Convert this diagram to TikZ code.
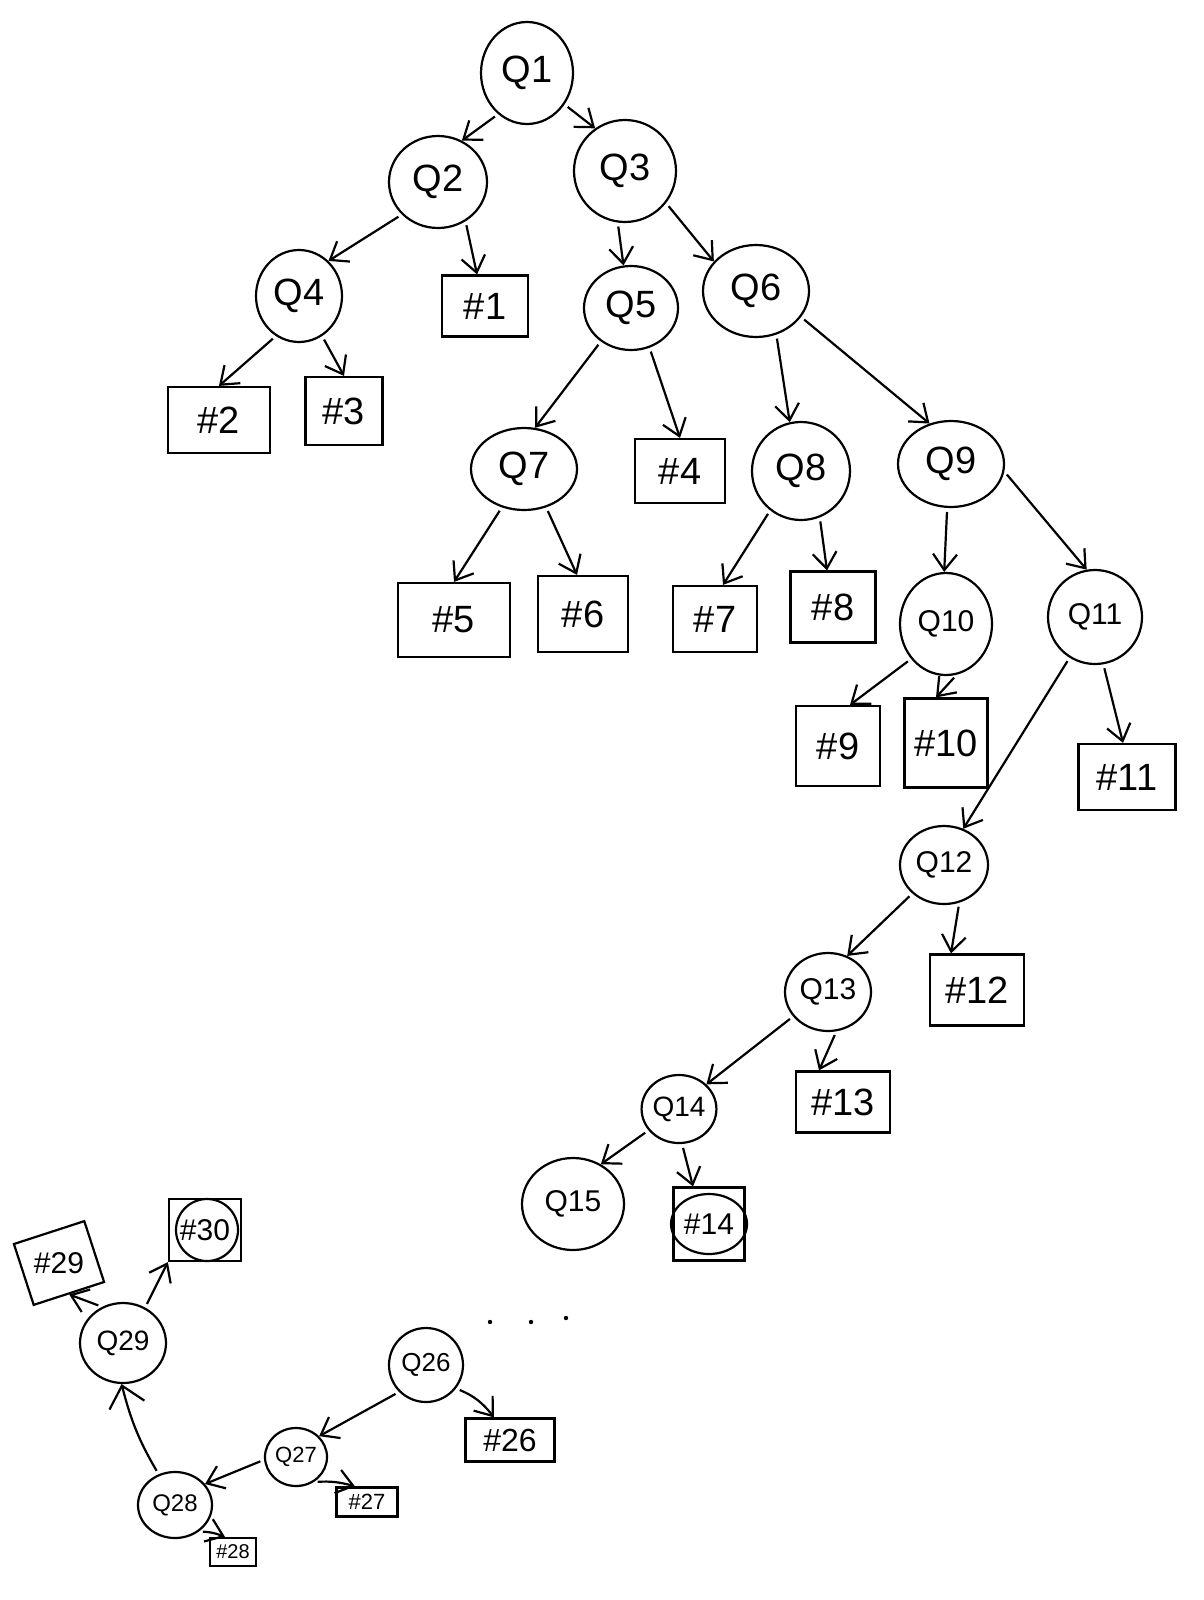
\documentclass[tikz,border=0pt]{standalone}
\usepackage{fontspec}
\setmainfont{Liberation Sans}
\usetikzlibrary{arrows.meta,shapes.geometric}
\begin{document}
\begin{tikzpicture}[x=0.5pt,y=-0.5pt,line width=1.1pt,
  q/.style={ellipse,draw,inner sep=0pt,font=\fontsize{19}{22}\selectfont},
  qq/.style={ellipse,draw,inner sep=0pt,font=\fontsize{15}{18}\selectfont},
  leaf/.style={rectangle,draw,inner sep=0pt,font=\fontsize{19}{22}\selectfont},
  arr/.style={-{Straight Barb[length=8pt,width=12pt]},shorten <=2pt},
  bigarr/.style={-{Straight Barb[length=10pt,width=18pt]},shorten <=2pt}]
\useasboundingbox (0,0) rectangle (1204,1600);
% question nodes
\node[q,minimum width=46pt,minimum height=51pt] (Q1) at (527,73) {Q1};
\node[q,minimum width=49pt,minimum height=46pt] (Q2) at (438,182) {Q2};
\node[q,minimum width=51pt,minimum height=51pt] (Q3) at (625,171) {Q3};
\node[q,minimum width=43pt,minimum height=46pt] (Q4) at (299,296) {Q4};
\node[q,minimum width=47pt,minimum height=42pt] (Q5) at (631,308) {Q5};
\node[q,minimum width=53pt,minimum height=46pt] (Q6) at (756,291) {Q6};
\node[q,minimum width=53pt,minimum height=41pt] (Q7) at (524,469) {Q7};
\node[q,minimum width=49pt,minimum height=49pt] (Q8) at (801,471) {Q8};
\node[q,minimum width=53pt,minimum height=43pt] (Q9) at (951,464) {Q9};
\node[qq,minimum width=46pt,minimum height=51pt] (Q10) at (946,624) {Q10};
\node[qq,minimum width=47pt,minimum height=47pt] (Q11) at (1095,617) {Q11};
\node[qq,minimum width=44pt,minimum height=39pt] (Q12) at (944,865) {Q12};
\node[qq,minimum width=43pt,minimum height=39pt] (Q13) at (828,992) {Q13};
\node[qq,minimum width=37pt,minimum height=34pt,font=\fontsize{14}{16}\selectfont] (Q14) at (679,1109) {Q14};
\node[qq,minimum width=51pt,minimum height=46pt] (Q15) at (573,1204) {Q15};
\node[qq,minimum width=37pt,minimum height=37pt,font=\fontsize{13}{15}\selectfont] (Q26) at (426,1365) {Q26};
\node[qq,minimum width=31pt,minimum height=29pt,font=\fontsize{11}{13}\selectfont] (Q27) at (296,1457) {Q27};
\node[qq,minimum width=37pt,minimum height=33pt,font=\fontsize{12}{14}\selectfont] (Q28) at (175,1505) {Q28};
\node[qq,minimum width=43pt,minimum height=40pt,font=\fontsize{14}{16}\selectfont] (Q29) at (123,1343) {Q29};
% answer boxes
\node[leaf,minimum width=43pt,minimum height=30.5pt] (n1) at (485,306) {\#1};
\node[leaf,minimum width=51pt,minimum height=33pt] (n2) at (219,420) {\#2};
\node[leaf,minimum width=38.5pt,minimum height=34pt] (n3) at (344,411) {\#3};
\node[leaf,minimum width=45pt,minimum height=32pt] (n4) at (680,471) {\#4};
\node[leaf,minimum width=56pt,minimum height=37pt] (n5) at (454,620) {\#5};
\node[leaf,minimum width=45pt,minimum height=38pt] (n6) at (583,614) {\#6};
\node[leaf,minimum width=42pt,minimum height=33pt] (n7) at (715,619) {\#7};
\node[leaf,minimum width=42.5pt,minimum height=35.5pt] (n8) at (833,607) {\#8};
\node[leaf,minimum width=42pt,minimum height=40pt] (n9) at (838,746) {\#9};
\node[leaf,minimum width=41.5pt,minimum height=44.5pt] (n10) at (946,743) {\#10};
\node[leaf,minimum width=48.5pt,minimum height=33pt] (n11) at (1127,777) {\#11};
\node[leaf,minimum width=47pt,minimum height=35.5pt] (n12) at (977,990) {\#12};
\node[leaf,minimum width=47pt,minimum height=30.5pt] (n13) at (843,1102) {\#13};
\node[leaf,minimum width=35.5pt,minimum height=36.5pt,font=\fontsize{15}{18}\selectfont] (n14) at (709,1224) {\#14};
\node[leaf,minimum width=44.5pt,minimum height=21.5pt,font=\fontsize{16}{18}\selectfont] (n26) at (510,1440) {\#26};
\node[leaf,minimum width=30.5pt,minimum height=14.5pt,font=\fontsize{11}{13}\selectfont] (n27) at (367,1502) {\#27};
\node[leaf,minimum width=23pt,minimum height=14pt,font=\fontsize{10}{12}\selectfont] (n28) at (233,1552) {\#28};
\node[draw,rectangle,minimum width=37pt,minimum height=32pt,rotate=18] (n29box) at (59,1263) {};
\node[inner sep=0pt,font=\fontsize{15}{18}\selectfont] (n29) at (59,1263) {\#29};
\node[leaf,minimum width=36pt,minimum height=31pt,font=\fontsize{15}{18}\selectfont] (n30) at (205,1230) {\#30};
% extra hand-drawn circles inside boxes
\draw (n14.center) ellipse [x radius=38, y radius=30];
\draw ([xshift=1pt]n30.center) ellipse [x radius=31, y radius=31];
% ellipsis dots
\fill (490,1322) circle [radius=2.2];
\fill (531,1322) circle [radius=2.2];
\fill (566,1318) circle [radius=2.2];
% connectors
\draw[arr] (Q1.235) -- (Q2.60);
\draw[arr] (Q1.320) -- (Q3.125);
\draw[arr] (Q2.222) -- (Q4.50);
\draw[arr] (Q2.305) -- ([xshift=-4pt]n1.north);
\draw[arr] (Q3.262) -- (Q5.100);
\draw[arr] (Q3.322) -- (Q6.145);
\draw[arr] (Q4.240) -- (n2.north);
\draw[arr] (Q4.300) -- (n3.north);
\draw[arr] (Q5.228) -- (Q7.75);
\draw[arr] (Q5.295) -- (n4.north);
\draw[arr] (Q6.295) -- (Q8.103);
\draw[arr] (Q6.330) -- (Q9.118);
\draw[arr] (Q7.240) -- (n5.north);
\draw[arr] (Q7.300) -- ([xshift=-3pt]n6.north);
\draw[arr] (Q8.232) -- ([xshift=4pt]n7.north);
\draw[arr] (Q8.292) -- ([xshift=-3pt]n8.north);
\draw[arr] (Q9.265) -- (Q10.92);
\draw[arr] (Q9.352) -- (Q11.100);
\draw[arr] (Q10.225) -- ([xshift=6pt]n9.north);
\draw[arr] (Q10.282) -- ([xshift=-5pt]n10.north);
\draw[arr] (Q11.280) -- ([xshift=-2pt]n11.north);
\draw[arr] (Q11.238) -- (Q12.62);
\draw[arr] (Q12.222) -- (Q13.62);
\draw[arr] (Q12.292) -- ([xshift=-13pt]n12.north);
\draw[arr] (Q13.215) -- (Q14.42);
\draw[arr] (Q13.282) -- ([xshift=-12pt]n13.north);
\draw[arr] (Q14.215) -- (Q15.55);
\draw[arr] (Q14.275) -- ([xshift=-8pt]n14.north);
\draw[arr] (Q26.225) -- (Q27.42);
\draw[arr] (Q26.322) to[bend left=15] ([xshift=-8pt]n26.north);
\draw[arr] (Q27.185) -- (Q28.35);
\draw[arr] (Q27.305) to[bend left=10] ([xshift=-6pt]n27.north);
\draw[arr] (Q28.312) to[bend left=10] ([xshift=-4pt]n28.north);
\draw[bigarr] (Q28.118) to[bend left=8] (Q29.268);
\draw[arr] (Q29.120) -- (n29box.south);
\draw[arr] (Q29.58) -- (n30.south west);
\end{tikzpicture}
\end{document}
